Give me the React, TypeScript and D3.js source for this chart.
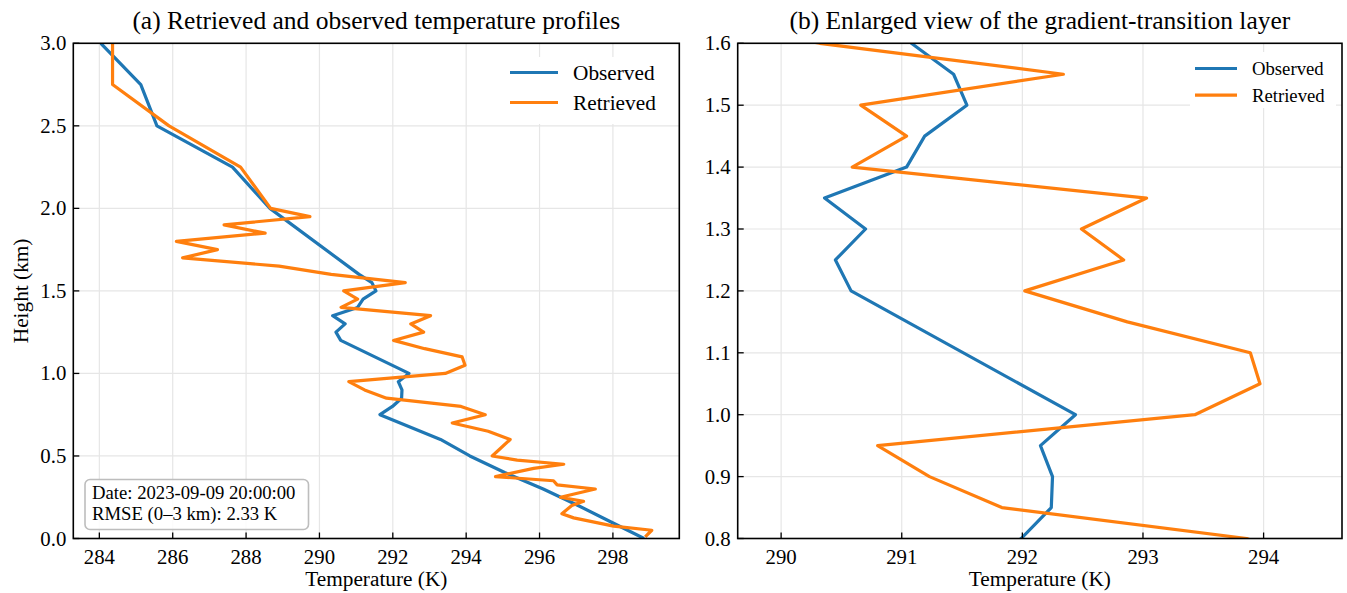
import React from "react";
import * as d3 from "d3";

// Observed profile (height km, temperature K)
const obsHeight = [3.0, 2.75, 2.5, 2.25, 2.0, 1.6, 1.55, 1.5, 1.45, 1.4, 1.35, 1.3, 1.25, 1.2, 1.0, 0.95, 0.9, 0.85, 0.8, 0.75, 0.6, 0.5, 0.4, 0.3, 0.2, 0.1, 0.0];
const obsTemp = [284.04, 285.13, 285.57, 287.63, 288.65, 291.08, 291.43, 291.54, 291.19, 291.04, 290.36, 290.7, 290.45, 290.58, 292.44, 292.15, 292.25, 292.24, 291.99, 291.65, 293.3, 294.1, 295.05, 296.1, 297.05, 297.95, 298.85];

// Retrieved profile
const retHeight = [3.0, 2.75, 2.5, 2.25, 2.0, 1.95, 1.9, 1.85, 1.8, 1.75, 1.7, 1.65, 1.6, 1.55, 1.5, 1.45, 1.4, 1.35, 1.3, 1.25, 1.2, 1.15, 1.1, 1.05, 1.0, 0.95, 0.9, 0.85, 0.8, 0.75, 0.7, 0.65, 0.6, 0.5, 0.475, 0.45, 0.425, 0.375, 0.35, 0.325, 0.3, 0.25, 0.225, 0.2, 0.15, 0.125, 0.075, 0.05, 0.01];
const retTemp = [284.36, 284.36, 285.9, 287.85, 288.67, 289.74, 287.4, 288.52, 286.1, 287.22, 286.27, 288.9, 290.32, 292.34, 290.66, 291.04, 290.59, 293.03, 292.49, 292.84, 292.02, 292.87, 293.89, 293.97, 293.43, 290.8, 291.23, 291.83, 293.86, 294.52, 293.62, 294.6, 295.2, 294.71, 295.39, 296.66, 295.84, 294.8, 296.38, 296.48, 297.52, 296.57, 297.2, 296.88, 296.61, 296.93, 298.02, 299.06, 298.88];

const leftXTicks = [284, 286, 288, 290, 292, 294, 296, 298];
const leftYTicks = [0.0, 0.5, 1.0, 1.5, 2.0, 2.5, 3.0];
const rightXTicks = [290, 291, 292, 293, 294];
const rightYTicks = [0.8, 0.9, 1.0, 1.1, 1.2, 1.3, 1.4, 1.5, 1.6];

const seriesNames = ["Observed", "Retrieved"];
const seriesColors = ["#1f77b4", "#ff7f0e"];

const FONT = "'Liberation Serif', 'Times New Roman', serif";

type PanelProps = {
  x0: number; x1: number; y0: number; y1: number;
  xDomain: [number, number]; yDomain: [number, number];
  xTicks: number[]; yTicks: number[];
  yFmt: (v: number) => string;
  title: string; id: string;
  showYLabel: boolean;
};

function Panel(p: PanelProps) {
  const xs = d3.scaleLinear().domain(p.xDomain).range([p.x0, p.x1]);
  const ys = d3.scaleLinear().domain(p.yDomain).range([p.y1, p.y0]);
  const line = d3.line<[number, number]>().x(d => xs(d[1])).y(d => ys(d[0]));
  const obs: [number, number][] = obsHeight.map((h, i) => [h, obsTemp[i]]);
  const ret: [number, number][] = retHeight.map((h, i) => [h, retTemp[i]]);
  const cx = (p.x0 + p.x1) / 2;
  return (
    <g>
      <defs>
        <clipPath id={p.id}>
          <rect x={p.x0} y={p.y0} width={p.x1 - p.x0} height={p.y1 - p.y0} />
        </clipPath>
      </defs>
      {p.xTicks.map(t => (
        <line key={"gx" + t} x1={xs(t)} x2={xs(t)} y1={p.y0} y2={p.y1} stroke="#e6e6e6" strokeWidth={1.2} />
      ))}
      {p.yTicks.map(t => (
        <line key={"gy" + t} x1={p.x0} x2={p.x1} y1={ys(t)} y2={ys(t)} stroke="#e6e6e6" strokeWidth={1.2} />
      ))}
      <g clipPath={`url(#${p.id})`}>
        <path d={line(obs) || ""} fill="none" stroke={seriesColors[0]} strokeWidth={3.2} strokeLinejoin="round" />
        <path d={line(ret) || ""} fill="none" stroke={seriesColors[1]} strokeWidth={3.2} strokeLinejoin="round" />
      </g>
      <rect x={p.x0} y={p.y0} width={p.x1 - p.x0} height={p.y1 - p.y0} fill="none" stroke="#000" strokeWidth={1.6} />
      {p.xTicks.map(t => (
        <g key={"tx" + t}>
          <line x1={xs(t)} x2={xs(t)} y1={p.y1} y2={p.y1 - 6} stroke="#000" strokeWidth={1.3} />
          <text x={xs(t)} y={p.y1 + 25} textAnchor="middle" fontSize={20.8} fontFamily={FONT}>{t}</text>
        </g>
      ))}
      {p.yTicks.map(t => (
        <g key={"ty" + t}>
          <line x1={p.x0} x2={p.x0 + 6} y1={ys(t)} y2={ys(t)} stroke="#000" strokeWidth={1.3} />
          <text x={p.x0 - 7} y={ys(t) + 7} textAnchor="end" fontSize={20.8} fontFamily={FONT}>{p.yFmt(t)}</text>
        </g>
      ))}
      <text x={cx} y={p.y1 + 47} textAnchor="middle" fontSize={21.3} fontFamily={FONT}>Temperature (K)</text>
      {p.showYLabel && (
        <text transform={`translate(28, ${(p.y0 + p.y1) / 2}) rotate(-90)`} textAnchor="middle" fontSize={21.3} fontFamily={FONT}>Height (km)</text>
      )}
      <text x={cx} y={29} textAnchor="middle" fontSize={25.5} fontFamily={FONT}>{p.title}</text>
    </g>
  );
}

export default function App() {
  const y0 = 43.3, y1 = 538.5;
  const fmt1 = d3.format(".1f");
  return (
    <svg width={1347} height={593} style={{ position: "absolute", left: 0, top: 0, background: "#fff" }}>
      <rect width={1347} height={593} fill="#fff" />
      <Panel x0={73.3} x1={679.3} y0={y0} y1={y1} xDomain={[283.29, 299.81]} yDomain={[0, 3]}
        xTicks={leftXTicks} yTicks={leftYTicks} yFmt={fmt1}
        title="(a) Retrieved and observed temperature profiles" id="clipA" showYLabel={true} />
      <Panel x0={737.7} x1={1342} y0={y0} y1={y1} xDomain={[289.64, 294.65]} yDomain={[0.8, 1.6]}
        xTicks={rightXTicks} yTicks={rightYTicks} yFmt={fmt1}
        title="(b) Enlarged view of the gradient-transition layer" id="clipB" showYLabel={false} />
      {/* left legend */}
      <rect x={497} y={57} width={174} height={67} fill="#fff" />
      {seriesNames.map((n, i) => (
        <g key={"la" + n}>
          <line x1={510} x2={558} y1={72.5 + i * 30} y2={72.5 + i * 30} stroke={seriesColors[i]} strokeWidth={3.2} />
          <text x={573} y={79.5 + i * 30} fontSize={21.3} fontFamily={FONT}>{n}</text>
        </g>
      ))}
      {/* right legend */}
      <rect x={1190} y={52} width={146} height={56} fill="#fff" />
      {seriesNames.map((n, i) => (
        <g key={"lb" + n}>
          <line x1={1195} x2={1237} y1={68.5 + i * 26.7} y2={68.5 + i * 26.7} stroke={seriesColors[i]} strokeWidth={3.2} />
          <text x={1252} y={74.8 + i * 26.7} fontSize={18.7} fontFamily={FONT}>{n}</text>
        </g>
      ))}
      {/* annotation */}
      <rect x={85} y={479.5} width={223.5} height={50} rx={5} ry={5} fill="#fff" fillOpacity={0.85} stroke="#bdbdbd" strokeWidth={1.6} />
      <text x={92} y={498.5} fontSize={18.7} fontFamily={FONT}>Date: 2023-09-09 20:00:00</text>
      <text x={92} y={519.5} fontSize={18.7} fontFamily={FONT}>RMSE (0–3 km): 2.33 K</text>
    </svg>
  );
}
